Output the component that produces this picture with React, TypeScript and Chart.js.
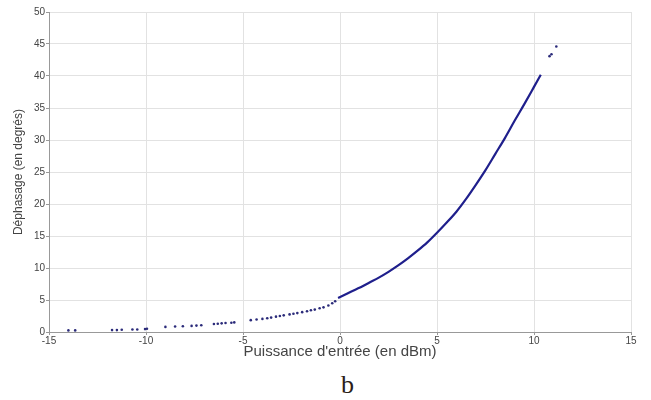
import React, { useEffect, useRef } from "react";
import { Chart, registerables } from "chart.js";

Chart.register(...registerables);

// Dense measured curve (input power dBm -> phase shift degrees)
const curveX = [-0.1, 0.3, 0.7, 1.0, 1.5, 2.0, 2.5, 3.0, 3.5, 4.0, 4.5, 5.0, 5.5, 6.0, 6.5, 7.0, 7.5, 8.0, 8.5, 9.0, 9.5, 10.0, 10.35];
const curveY = [5.3, 5.9, 6.5, 6.9, 7.7, 8.5, 9.4, 10.4, 11.5, 12.7, 14.0, 15.5, 17.1, 18.8, 20.8, 23.0, 25.3, 27.8, 30.3, 33.0, 35.6, 38.3, 40.2];

// Sparse isolated samples
const sparseX = [-14.0, -13.65, -11.75, -11.5, -11.25, -10.7, -10.45, -10.05, -9.95, -9.0, -8.5, -8.1, -7.65, -7.4, -7.15, -6.5, -6.3, -6.1, -5.9, -5.6, -5.45, -4.6, -4.3, -4.0, -3.75, -3.55, -3.3, -3.1, -2.9, -2.6, -2.4, -2.2, -1.95, -1.7, -1.5, -1.3, -1.05, -0.85, -0.6, -0.4, -0.25, 10.8, 10.9, 11.15];
const sparseY = [0.25, 0.25, 0.3, 0.3, 0.35, 0.4, 0.4, 0.45, 0.5, 0.8, 0.85, 0.9, 0.95, 1.0, 1.05, 1.25, 1.3, 1.35, 1.4, 1.45, 1.5, 1.85, 1.95, 2.05, 2.15, 2.25, 2.4, 2.5, 2.6, 2.75, 2.85, 2.95, 3.1, 3.25, 3.4, 3.5, 3.7, 3.85, 4.15, 4.5, 4.8, 43.1, 43.4, 44.6];

const xTitle = "Puissance d'entrée (en dBm)";
const yTitle = "Déphasage (en degrés)";
const subLabel = "b";

export default function App() {
  const ref = useRef<HTMLCanvasElement>(null);

  useEffect(() => {
    if (!ref.current) return;
    const curve = curveX.map((x, i) => ({ x, y: curveY[i] }));
    const sparse = sparseX.map((x, i) => ({ x, y: sparseY[i] }));
    const tickFont = { family: "'Liberation Sans', Arial, sans-serif", size: 10 };
    const chart = new Chart(ref.current, {
      type: "scatter",
      data: {
        datasets: [
          {
            data: curve,
            showLine: true,
            borderColor: "#1f1f8c",
            borderWidth: 2.2,
            pointRadius: 0,
            cubicInterpolationMode: "monotone",
          },
          {
            data: sparse,
            showLine: false,
            backgroundColor: "#2b2b7a",
            borderWidth: 0,
            pointRadius: 1.3,
          },
        ],
      },
      options: {
        animation: false,
        responsive: false,
        layout: { padding: { top: 12, right: 20, left: 0, bottom: 0 } },
        plugins: { legend: { display: false }, tooltip: { enabled: false } },
        scales: {
          x: {
            type: "linear",
            min: -15,
            max: 15,
            afterFit: (s: any) => { s.height = 33; },
            ticks: { stepSize: 5, color: "#444", font: tickFont, padding: 0, maxRotation: 0 },
            grid: { color: "#e2e2e2", tickColor: "#999", tickLength: 3 },
            border: { color: "#999" },
            title: {
              display: true,
              text: xTitle,
              color: "#444",
              font: { family: "'Liberation Sans', Arial, sans-serif", size: 15 },
              padding: { top: 0, bottom: 4 },
            },
          },
          y: {
            type: "linear",
            min: 0,
            max: 50,
            afterFit: (s: any) => { s.width = 49; },
            ticks: { stepSize: 5, color: "#444", font: tickFont, padding: 1 },
            grid: { color: "#e2e2e2", tickColor: "#999", tickLength: 3 },
            border: { color: "#999" },
            title: {
              display: true,
              text: yTitle,
              color: "#444",
              font: { family: "'Liberation Sans', Arial, sans-serif", size: 12 },
              padding: { top: 11, bottom: 0 },
            },
          },
        },
      },
    });
    return () => chart.destroy();
  }, []);

  return (
    <div style={{ position: "absolute", left: 0, top: 0, width: 651, height: 400, background: "#fff" }}>
      <canvas ref={ref} width={651} height={365} style={{ display: "block" }} />
      <span
        style={{
          position: "absolute",
          left: 341,
          top: 372,
          fontFamily: "'Liberation Serif', 'Times New Roman', serif",
          fontSize: 26,
          lineHeight: "26px",
          color: "#2a2018",
        }}
      >
        {subLabel}
      </span>
    </div>
  );
}
